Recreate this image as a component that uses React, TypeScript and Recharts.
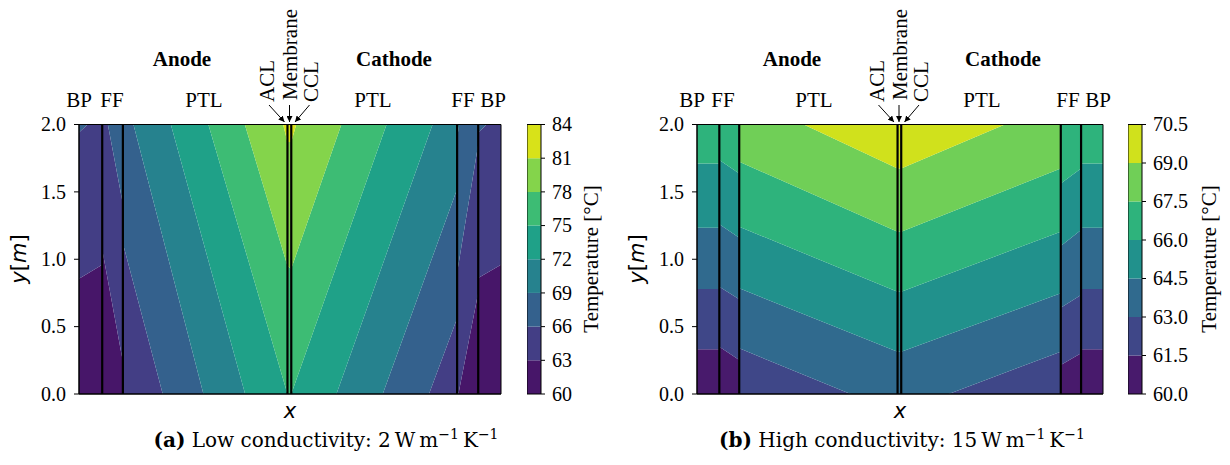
import { ComposedChart, Area, XAxis, YAxis, ReferenceLine, ReferenceArea } from "recharts"

// positions across the cell, 0 = anode BP edge, 1 = cathode BP edge
// every layer boundary is listed twice so the lines may jump at contacts
const STATION_X = [0, 0.055, 0.0551, 0.104, 0.1041, 0.494, 0.503, 0.8959, 0.896, 0.9459, 0.946, 1]
const LAYER_X = [0.055, 0.104, 0.494, 0.503, 0.896, 0.946]
const X_TICKS = [0, 0.055, 0.104, 0.494, 0.503, 0.896, 0.946, 1]
const Y_TICKS = [0, 0.5, 1, 1.5, 2]

// (a) low conductivity
const LOW_LEVELS = [60, 63, 66, 69, 72, 75, 78, 81, 84]
const LOW_COLORS = ["#471669", "#433e85", "#34618d", "#26828e", "#1fa188", "#3dbc74", "#84d44b", "#d8e219"]
// height y [m] of each contour line at the stations (lines carried on past the frame)
const LOW_63 = [0.855, 0.96, 1.07, 0.24, -0.1, -4.5, -3.4, -0.4, -0.05, 0.75, 0.86, 0.96]
const LOW_66 = [1.94, 2.1, 2.22, 1.41, 1.117, -3.5, -2.75, 0.56, 0.9, 1.85, 1.94, 2.1]
const LOW_69 = [3.0, 3.0, 3.37, 2.58, 2.3, -2.4, -1.87, 1.52, 1.9, 2.9, 3.0, 3.0]
const LOW_72 = [4.0, 4.0, 4.5, 3.75, 3.29, -1.14, -0.94, 2.51, 2.9, 3.9, 4.0, 4.0]
const LOW_75 = [5.0, 5.0, 5.6, 4.9, 4.16, 0.0, 0.0, 3.48, 3.9, 4.9, 5.0, 5.0]
const LOW_78 = [6.0, 6.0, 6.8, 6.1, 5.0, 0.95, 0.93, 4.47, 5.0, 6.0, 6.0, 6.0]
const LOW_81 = [7.0, 7.0, 8.0, 7.3, 6.8, 1.87, 1.87, 6.2, 6.5, 7.5, 7.0, 7.0]

// (b) high conductivity
const HIGH_LEVELS = [60, 61.5, 63, 64.5, 66, 67.5, 69, 70.5]
const HIGH_COLORS = ["#481a6c", "#3f4788", "#306a8e", "#21918c", "#2eb37c", "#70cf57", "#d0e11c"]
const HIGH_615 = [0.332, 0.332, 0.351, 0.252, -0.11, -0.6, -0.6, -0.13, 0.215, 0.302, 0.332, 0.332]
const HIGH_63 = [0.779, 0.779, 0.796, 0.703, 0.339, -0.143, -0.133, 0.314, 0.64, 0.734, 0.779, 0.779]
const HIGH_645 = [1.234, 1.234, 1.259, 1.159, 0.784, 0.314, 0.314, 0.747, 1.098, 1.217, 1.234, 1.234]
const HIGH_66 = [1.711, 1.711, 1.736, 1.637, 1.241, 0.759, 0.759, 1.204, 1.563, 1.674, 1.711, 1.711]
const HIGH_675 = [2.2, 2.2, 2.2, 2.12, 1.723, 1.204, 1.204, 1.674, 2.05, 2.15, 2.2, 2.2]
const HIGH_69 = [2.7, 2.7, 2.7, 2.6, 2.224, 1.674, 1.674, 2.176, 2.55, 2.65, 2.7, 2.7]

const SERIF = "'Liberation Serif', 'Times New Roman', serif"
const MATH = "'DejaVu Sans', sans-serif"
const CAPTION = "'DejaVu Serif', serif"
const FS = 20

const TOP = 124.5
const BOTTOM = 394
const H = 465

function buildRows(xs: number[], lines: number[][], lo: number, hi: number) {
    return xs.map((x, i) => {
        const row: any = { x }
        const edges = [lo, ...lines.map((l) => l[i]), hi]
        for (let k = 0; k < edges.length - 1; k++) {
            row["b" + k] = [edges[k], edges[k + 1]]
        }
        return row
    })
}

function serifTick(fmt: (v: number) => string) {
    return (p: any) => (
        <text x={p.x} y={p.y} dy="0.34em" textAnchor={p.textAnchor} fontFamily={SERIF} fontSize={FS} fill="#000">
            {fmt(p.payload.value)}
        </text>
    )
}

function bands(colors: string[]) {
    return colors.map((c, k) => (
        <Area
            key={k}
            type="linear"
            dataKey={"b" + k}
            fill={c}
            fillOpacity={1}
            stroke="none"
            dot={false}
            activeDot={false}
            isAnimationActive={false}
        />
    ))
}

function ContourPanel({ left, plotLeft, plotRight, lines, colors }: any) {
    const W = 530
    const rows = buildRows(STATION_X, lines, 0, 2)
    return (
        <div style={{ position: "absolute", left, top: 0 }}>
            <ComposedChart
                width={W}
                height={H}
                data={rows}
                margin={{ top: TOP, right: W - (plotRight - left), bottom: H - BOTTOM - 30, left: plotLeft - left - 60 }}
            >
                <XAxis
                    type="number"
                    dataKey="x"
                    domain={[0, 1]}
                    allowDataOverflow
                    ticks={X_TICKS}
                    interval={0}
                    tick={false}
                    tickSize={5}
                    height={30}
                    axisLine={{ stroke: "#000" }}
                    tickLine={{ stroke: "#000" }}
                />
                <YAxis
                    type="number"
                    domain={[0, 2]}
                    allowDataOverflow
                    ticks={Y_TICKS}
                    interval={0}
                    width={60}
                    tickSize={5}
                    tickMargin={8}
                    tick={serifTick((v) => v.toFixed(1))}
                    axisLine={{ stroke: "#000" }}
                    tickLine={{ stroke: "#000" }}
                />
                {bands(colors)}
                {LAYER_X.map((x) => (
                    <ReferenceLine key={x} x={x} stroke="#000" strokeWidth={2.2} />
                ))}
                <ReferenceArea x1={0} x2={1} y1={0} y2={2} fill="none" stroke="#000" strokeWidth={1} />
            </ComposedChart>
        </div>
    )
}

function Colorbar({ left, levels, colors, digits }: any) {
    const W = 90
    const lo = levels[0]
    const hi = levels[levels.length - 1]
    const inner = levels.slice(1, -1)
    const rows = buildRows([0, 1], inner.map((v: number) => [v, v]), lo, hi)
    return (
        <div style={{ position: "absolute", left, top: 0 }}>
            <ComposedChart
                width={W}
                height={H}
                data={rows}
                margin={{ top: TOP, right: W - 14 - 60, bottom: H - BOTTOM, left: 0 }}
            >
                <XAxis type="number" dataKey="x" domain={[0, 1]} hide />
                <YAxis
                    orientation="right"
                    type="number"
                    domain={[lo, hi]}
                    allowDataOverflow
                    ticks={levels}
                    interval={0}
                    width={60}
                    tickSize={4}
                    tickMargin={7}
                    tick={serifTick((v) => v.toFixed(digits))}
                    axisLine={false}
                    tickLine={{ stroke: "#000" }}
                />
                {bands(colors)}
                <ReferenceArea x1={0} x2={1} y1={lo} y2={hi} fill="none" stroke="#000" strokeWidth={1} />
            </ComposedChart>
        </div>
    )
}

function Rot({ x, y, text }: any) {
    return (
        <text transform={`translate(${x},${y}) rotate(-90)`} fontFamily={SERIF} fontSize={FS + 1} fill="#000">
            {text}
        </text>
    )
}

function Labels({ anode, cathode, bp1, ff1, ptl1, ptl2, ff2, bp2, center }: any) {
    const t = (x: number, s: string, bold = false, y = 107) => (
        <text x={x} y={y} textAnchor="middle" fontFamily={SERIF} fontSize={FS + 1} fontWeight={bold ? "bold" : "normal"} fill="#000">
            {s}
        </text>
    )
    return (
        <g>
            {t(anode, "Anode", true, 66)}
            {t(cathode, "Cathode", true, 66)}
            {t(bp1, "BP")}
            {t(ff1, "FF")}
            {t(ptl1, "PTL")}
            {t(ptl2, "PTL")}
            {t(ff2, "FF")}
            {t(bp2, "BP")}
            <Rot x={center - 16} y={102} text="ACL" />
            <Rot x={center + 7} y={100} text="Membrane" />
            <Rot x={center + 28} y={102} text="CCL" />
            <line x1={center - 21} y1={105} x2={center - 5.5} y2={122} stroke="#000" strokeWidth={1} markerEnd="url(#arr)" />
            <line x1={center - 0.5} y1={105} x2={center - 0.5} y2={122} stroke="#000" strokeWidth={1} markerEnd="url(#arr)" />
            <line x1={center + 19.5} y1={105} x2={center + 5} y2={122} stroke="#000" strokeWidth={1} markerEnd="url(#arr)" />
        </g>
    )
}

function Caption({ x, tag, text, value }: any) {
    return (
        <text x={x} y={447} textAnchor="middle" fontFamily={CAPTION} fontSize={20} fill="#000">
            <tspan fontWeight="bold">{tag}</tspan>
            <tspan>{` ${text}:  ${value}\u2009W\u2009m`}</tspan>
            <tspan dy={-8} fontSize={14}>−1</tspan>
            <tspan dy={8}>{"\u2009K"}</tspan>
            <tspan dy={-8} fontSize={14}>−1</tspan>
        </text>
    )
}

export default function App() {
    return (
        <div style={{ position: "absolute", left: 0, top: 0, width: 1230, height: H, background: "#fff", overflow: "hidden" }}>
            <ContourPanel
                left={0}
                plotLeft={79}
                plotRight={501}
                lines={[LOW_63, LOW_66, LOW_69, LOW_72, LOW_75, LOW_78, LOW_81]}
                colors={LOW_COLORS}
            />
            <Colorbar left={527} levels={LOW_LEVELS} colors={LOW_COLORS} digits={0} />
            <ContourPanel
                left={600}
                plotLeft={697}
                plotRight={1103}
                lines={[HIGH_615, HIGH_63, HIGH_645, HIGH_66, HIGH_675, HIGH_69]}
                colors={HIGH_COLORS}
            />
            <Colorbar left={1128} levels={HIGH_LEVELS} colors={HIGH_COLORS} digits={1} />

            <svg width={1230} height={H} style={{ position: "absolute", left: 0, top: 0, pointerEvents: "none" }}>
                <defs>
                    <marker id="arr" viewBox="0 0 10 10" refX="10" refY="5" markerWidth="6" markerHeight="6" orient="auto-start-reverse">
                        <path d="M0,0 L10,5 L0,10 z" fill="#000" />
                    </marker>
                </defs>
                <Labels anode={182} cathode={394} bp1={79} ff1={112} ptl1={204} ptl2={373} ff2={463} bp2={493} center={290} />
                <Labels anode={792} cathode={1003} bp1={692} ff1={723} ptl1={814} ptl2={982} ff2={1068} bp2={1098} center={899.5} />

                {[[26, 259], [644, 259]].map(([x, y]) => (
                    <text key={x} transform={`translate(${x},${y}) rotate(-90)`} textAnchor="middle" fontFamily={MATH} fontSize={21} fill="#000">
                        <tspan fontStyle="italic">y</tspan>
                        <tspan>[</tspan>
                        <tspan fontStyle="italic">m</tspan>
                        <tspan>]</tspan>
                    </text>
                ))}
                {[290, 900].map((x) => (
                    <text key={x} x={x} y={418} textAnchor="middle" fontFamily={MATH} fontStyle="italic" fontSize={21} fill="#000">
                        x
                    </text>
                ))}
                {[598, 1216].map((x) => (
                    <text key={x} transform={`translate(${x},259) rotate(-90)`} textAnchor="middle" fontFamily={SERIF} fontSize={21} fill="#000">
                        Temperature [°C]
                    </text>
                ))}

                <Caption x={326} tag="(a)" text="Low conductivity" value="2" />
                <Caption x={902} tag="(b)" text="High conductivity" value="15" />
            </svg>
        </div>
    )
}
